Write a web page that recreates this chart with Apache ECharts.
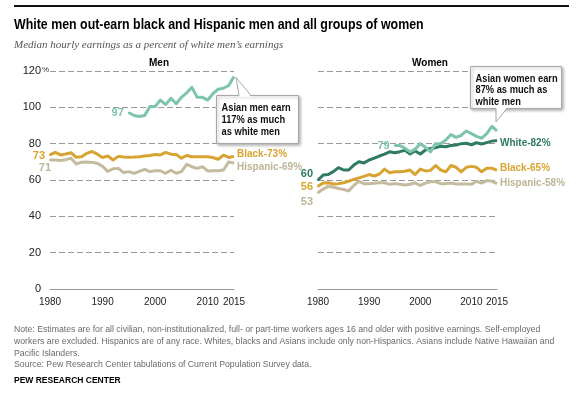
<!DOCTYPE html>
<html><head><meta charset="utf-8">
<script src="https://cdn.jsdelivr.net/npm/echarts@6/dist/echarts.min.js"></script>
<style>html,body{margin:0;padding:0;background:#fff}#c{width:583px;height:393px}</style>
</head><body><div id="c"></div>
<script>
// ---------- data ----------
const years = [1980,1981,1982,1983,1984,1985,1986,1987,1988,1989,1990,1991,1992,1993,1994,1995,1996,1997,1998,1999,2000,2001,2002,2003,2004,2005,2006,2007,2008,2009,2010,2011,2012,2013,2014,2015];
const yearsAsian = [1995,1996,1997,1998,1999,2000,2001,2002,2003,2004,2005,2006,2007,2008,2009,2010,2011,2012,2013,2014,2015];

const menBlack = [73.8,75.2,73.8,74.3,75,72.5,72.8,74.7,75.7,74.2, 72.4,73.2,71,73,72.6,72.5,72.6,72.8,73.2,73.5, 74,73.8,75.2,74.2,74,72,73.5,72.8,72.8,72.8, 72.8,72.4,71.4,73.7,72.4,73];
const menHispanic = [71,71,70.7,71.2,72,68.8,69.8,69.9,69.7,69.2, 67.5,64.8,66.2,66.4,64.1,64.6,63.7,64.8,65.9,64.6, 65.1,65.1,63.7,65.4,63.7,64.6,68.6,67.3,66.4,67.3, 65,65.1,65.1,65.5,70,69.2];
const menAsian = [97,95.5,95,95.5,100.5,100.5,104,101.5,105,102,105.5,108,111,105.5,105.5,104,107.5,110,110.5,112,117];

const womenWhite = [60,62.7,63,64.6,66.8,65.5,65.5,68.2,70,69.4, 71,72,73.2,74.2,75.5,75,75.6,76.3,74.3,76, 74.3,76.5,77.4,77.8,78.6,78.3,79,79.2,80,80.2, 79.4,80.5,79.8,80.6,81.4,81.7];
const womenBlack = [56.5,58.3,58.5,57.8,58,58.5,59.3,60.3,61.2,62, 63,62.2,63.3,66,64,64.5,64.5,64.8,65.5,63, 66,65,65.3,68,65.5,64.5,68,67,64.5,67, 67.5,67,64.5,66.5,66.5,65.3];
const womenHispanic = [53,55,56.5,56,55.3,54.8,54,57,59.3,58, 58,58.2,58.5,58.5,57.6,58,57.6,57.3,57.6,58.5, 57,58.3,59,59,58,58,58.3,57.8,57.8,57.8, 57.6,59.3,58.3,59.7,59.3,58];
const womenAsian = [79,79,77.5,75.5,77,80,78,75.5,80,80,82,85,83.5,84.5,87,85.5,84,83,85.5,89.5,87];

const xTicks = [1980,1990,2000,2010,2015];
const yTicks = [0,20,40,60,80,100,120];

const title = 'White men out-earn black and Hispanic men and all groups of women';
const subtitle = 'Median hourly earnings as a percent of white men\u2019s earnings';
const panelTitles = ['Men','Women'];
const noteLines = [
 'Note: Estimates are for all civilian, non-institutionalized, full- or part-time workers ages 16 and older with positive earnings. Self-employed',
 'workers are excluded. Hispanics are of any race. Whites, blacks and Asians include only non-Hispanics. Asians include Native Hawaiian and',
 'Pacific Islanders.',
 'Source: Pew Research Center tabulations of Current Population Survey data.'
];
const credit = 'PEW RESEARCH CENTER';
const calloutMen = ['Asian men earn','117% as much','as white men'];
const calloutWomen = ['Asian women earn','87% as much as','white men'];

// ---------- styles ----------
const C = {asian:'#7cc4ad', white:'#2f7a65', black:'#d8a431', hisp:'#c4bb9e', hispText:'#bdb596'};
const FONT = 'Arial, "Liberation Sans", sans-serif';

function pairs(xs, vs){ return xs.map((x,i)=>[x, vs[i]]); }

function makeSeries(name, idx, xs, vs, color, startText, startOpt, endText, endOpt, z){
  const d = pairs(xs, vs);
  d[0] = {value:d[0], symbol:'circle', symbolSize:2,
          label:Object.assign({show:true, position:'left', distance:4, formatter:startText,
            color: (color===C.hisp?C.hispText:color), fontSize:11, fontWeight:'bold', fontFamily:FONT}, startOpt)};
  const s = {name, type:'line', xAxisIndex:idx, yAxisIndex:idx, data:d, symbol:'none', showSymbol:true, z:z||2,
    lineStyle:{color, width:3, join:'round'}, itemStyle:{color}, silent:true, animation:false};
  if(endText){
    s.endLabel = Object.assign({show:true, formatter:endText, distance:3, color:(color===C.hisp?C.hispText:color),
      fontSize:10, fontWeight:'bold', fontFamily:FONT}, endOpt);
  }
  return s;
}

const xAxisBase = {type:'value', min:1980, max:2015, interval:5,
  axisLine:{show:true, lineStyle:{color:'#999', width:1}}, axisTick:{show:false}, splitLine:{show:false},
  axisLabel:{formatter:v=>xTicks.includes(v)?String(v):'', color:'#222', fontSize:10, margin:8, fontFamily:FONT}};
const yAxisBase = {type:'value', min:yTicks[0], max:yTicks[yTicks.length-1], interval:20,
  axisLine:{show:false}, axisTick:{show:false},
  splitLine:{show:true, lineStyle:{color:'#9a9a9a', type:[6,3], width:1}}};

const chart = echarts.init(document.getElementById('c'), null, {renderer:'canvas'});
chart.setOption({
  animation:false,
  backgroundColor:'#fff',
  grid:[{left:50, top:71, width:184, height:218}, {left:318, top:71, width:179, height:218}],
  xAxis:[Object.assign({gridIndex:0}, xAxisBase), Object.assign({gridIndex:1}, xAxisBase)],
  yAxis:[
    Object.assign({gridIndex:0, axisLabel:{color:'#222', fontSize:11, margin:9, fontFamily:FONT}}, yAxisBase),
    Object.assign({gridIndex:1, axisLabel:{show:false}}, yAxisBase)
  ],
  series:[
    makeSeries('Hispanic men',0,years,menHispanic,C.hisp,'71',{offset:[6,8]},'Hispanic-69%',{offset:[0,4]},2),
    makeSeries('Black men',0,years,menBlack,C.black,'73',{offset:[0,1]},'Black-73%',{offset:[0,-2]},3),
    makeSeries('Asian men',0,yearsAsian,menAsian,C.asian,'97',{offset:[0,0]},null,null,4),
    makeSeries('Hispanic women',1,years,womenHispanic,C.hisp,'53',{offset:[0,9]},'Hispanic-58%',{offset:[0,0]},2),
    makeSeries('Black women',1,years,womenBlack,C.black,'56',{offset:[0,1]},'Black-65%',{offset:[0,-2]},3),
    makeSeries('White women',1,years,womenWhite,C.white,'60',{offset:[0,-6]},'White-82%',{offset:[0,3]},4),
    makeSeries('Asian women',1,yearsAsian,womenAsian,C.asian,'79',{offset:[0,0]},null,null,5)
  ]
});

// ---------- text & callouts ----------
function txt(text, x, y, font, fill, align, sx){
  return {type:'text', silent:true, z:100, x, y, scaleX:sx||1,
    style:{text, x:0, y:0, font, fill, align:align||'left', verticalAlign:'middle'}};
}
function callout(lines, bx, by, bw, bh, base1, base2, baseY, tip, lh){
  const els = [];
  els.push({type:'rect', z:100, silent:true, shape:{x:bx, y:by, width:bw, height:bh},
    style:{fill:'#fff', stroke:'#a8a8a8', lineWidth:1, shadowBlur:3, shadowOffsetX:1.5, shadowOffsetY:1.5, shadowColor:'rgba(0,0,0,0.3)'}});
  const inward = baseY > tip[1] ? 1.2 : -1.2;
  els.push({type:'polygon', z:101, silent:true, shape:{points:[[base1,baseY+inward],[tip[0],tip[1]],[base2,baseY+inward]]}, style:{fill:'#fff'}});
  els.push({type:'polyline', z:102, silent:true, shape:{points:[[base1,baseY],[tip[0],tip[1]],[base2,baseY]]}, style:{stroke:'#a8a8a8', lineWidth:1, fill:null}});
  lines.forEach((l,i)=>els.push(Object.assign(txt(l, bx+5, by+12.5+i*lh, 'bold 10px '+FONT, '#111', 'left', 0.93), {z:103})));
  return els;
}

const tipMen = chart.convertToPixel({xAxisIndex:0, yAxisIndex:0}, [yearsAsian[yearsAsian.length-1], menAsian[menAsian.length-1]]);
const tipWomen = chart.convertToPixel({xAxisIndex:1, yAxisIndex:1}, [yearsAsian[yearsAsian.length-1], womenAsian[womenAsian.length-1]]);

const g = [
  {type:'line', silent:true, shape:{x1:14, y1:6, x2:569, y2:6}, style:{stroke:'#111', lineWidth:2}},
  txt(title, 14, 25, 'bold 14px ' + FONT, '#000', 'left', 0.885),
  txt(subtitle, 14, 45, 'italic 11px "Liberation Serif", "DejaVu Serif", serif', '#555'),
  txt(panelTitles[0], 159, 63, 'bold 10px '+FONT, '#000', 'center'),
  txt(panelTitles[1], 430, 63, 'bold 10px '+FONT, '#000', 'center'),
  txt('%', 42, 70, '8px '+FONT, '#333'),
  ...noteLines.map((l,i)=>txt(l, 14, 330 + i*11.7, '8.7px '+FONT, '#6a6a6a')),
  txt(credit, 14, 381, 'bold 8.5px '+FONT, '#000'),
  ...callout(calloutMen, 216.5, 95.5, 82, 48, 239, 251, 95.5, [tipMen[0]+2, tipMen[1]+1], 12),
  ...callout(calloutWomen, 470.5, 66.5, 91, 42, 496, 507, 108.5, [tipWomen[0]-1, tipWomen[1]-9], 11.7)
];
chart.setOption({graphic:g});
</script></body></html>
